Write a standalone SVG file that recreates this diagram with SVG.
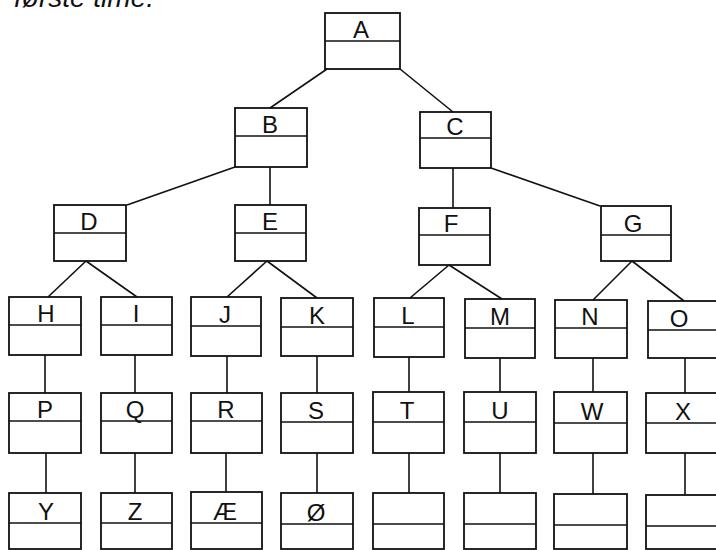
<svg xmlns="http://www.w3.org/2000/svg" width="716" height="550" viewBox="0 0 716 550">
<style>
.b{fill:none;stroke:#111;stroke-width:1.8}
.d{stroke:#111;stroke-width:1.6}
.t{font-family:"Liberation Sans",Arial,sans-serif;font-size:24px;fill:#111;text-anchor:middle}
.c line{stroke:#111;stroke-width:1.6}
.cap{font-family:"Liberation Sans",Arial,sans-serif;font-size:28px;font-style:italic;fill:#111}
</style>
<rect width="716" height="550" fill="#fff"/>
<text class="cap" x="14" y="7">første time.</text>
<g class="c" id="connectors">
<line x1="327" y1="69" x2="270" y2="108"/>
<line x1="400" y1="69" x2="453" y2="112"/>
<line x1="235" y1="167" x2="127" y2="205"/>
<line x1="270" y1="167" x2="270" y2="205"/>
<line x1="453" y1="168" x2="453" y2="208"/>
<line x1="491" y1="168" x2="600" y2="206"/>
<line x1="86" y1="261" x2="48" y2="297"/>
<line x1="86" y1="261" x2="137" y2="297"/>
<line x1="267" y1="261" x2="227" y2="297"/>
<line x1="267" y1="261" x2="317" y2="298"/>
<line x1="449" y1="265" x2="410" y2="298"/>
<line x1="449" y1="265" x2="502" y2="299"/>
<line x1="632" y1="261" x2="593" y2="300"/>
<line x1="632" y1="261" x2="684" y2="301"/>
<line x1="45" y1="355" x2="45" y2="393"/>
<line x1="135" y1="355" x2="135" y2="393"/>
<line x1="227" y1="356" x2="227" y2="393"/>
<line x1="317" y1="356" x2="317" y2="393"/>
<line x1="409" y1="357" x2="409" y2="392"/>
<line x1="500" y1="358" x2="500" y2="392"/>
<line x1="593" y1="358" x2="593" y2="392"/>
<line x1="685" y1="358" x2="685" y2="393"/>
<line x1="46" y1="453" x2="46" y2="493"/>
<line x1="135" y1="453" x2="135" y2="493"/>
<line x1="226" y1="453" x2="226" y2="492"/>
<line x1="317" y1="453" x2="317" y2="493"/>
<line x1="409" y1="453" x2="409" y2="493"/>
<line x1="500" y1="453" x2="500" y2="493"/>
<line x1="593" y1="453" x2="593" y2="494"/>
<line x1="685" y1="453" x2="685" y2="495"/>
</g>
<g id="A"><rect class="b" x="325" y="13" width="75" height="56"/><line class="d" x1="325" y1="41" x2="400" y2="41"/><text class="t" x="361" y="38">A</text></g>
<g id="B"><rect class="b" x="235" y="108" width="72" height="59"/><line class="d" x1="235" y1="136" x2="307" y2="136"/><text class="t" x="270" y="133">B</text></g>
<g id="C"><rect class="b" x="420" y="112" width="71" height="56"/><line class="d" x1="420" y1="138" x2="491" y2="138"/><text class="t" x="455" y="135">C</text></g>
<g id="D"><rect class="b" x="54" y="205" width="72" height="56"/><line class="d" x1="54" y1="233" x2="126" y2="233"/><text class="t" x="89" y="230">D</text></g>
<g id="E"><rect class="b" x="235" y="205" width="71" height="56"/><line class="d" x1="235" y1="233" x2="306" y2="233"/><text class="t" x="270" y="230">E</text></g>
<g id="F"><rect class="b" x="419" y="208" width="71" height="57"/><line class="d" x1="419" y1="235" x2="490" y2="235"/><text class="t" x="451" y="232">F</text></g>
<g id="G"><rect class="b" x="601" y="206" width="70" height="55"/><line class="d" x1="601" y1="235" x2="671" y2="235"/><text class="t" x="633" y="232">G</text></g>
<g id="H"><rect class="b" x="9" y="297" width="72" height="58"/><line class="d" x1="9" y1="325" x2="81" y2="325"/><text class="t" x="46" y="322">H</text></g>
<g id="I"><rect class="b" x="101" y="297" width="71" height="58"/><line class="d" x1="101" y1="325" x2="172" y2="325"/><text class="t" x="136" y="322">I</text></g>
<g id="J"><rect class="b" x="191" y="297" width="70" height="59"/><line class="d" x1="191" y1="326" x2="261" y2="326"/><text class="t" x="225" y="323">J</text></g>
<g id="K"><rect class="b" x="281" y="298" width="72" height="58"/><line class="d" x1="281" y1="327" x2="353" y2="327"/><text class="t" x="317" y="324">K</text></g>
<g id="L"><rect class="b" x="374" y="298" width="70" height="59"/><line class="d" x1="374" y1="327" x2="444" y2="327"/><text class="t" x="408" y="324">L</text></g>
<g id="M"><rect class="b" x="465" y="299" width="70" height="59"/><line class="d" x1="465" y1="328" x2="535" y2="328"/><text class="t" x="500" y="325">M</text></g>
<g id="N"><rect class="b" x="555" y="300" width="72" height="58"/><line class="d" x1="555" y1="328" x2="627" y2="328"/><text class="t" x="590" y="325">N</text></g>
<g id="O"><rect class="b" x="648" y="301" width="80" height="57"/><line class="d" x1="648" y1="330" x2="728" y2="330"/><text class="t" x="679" y="327">O</text></g>
<g id="P"><rect class="b" x="9" y="393" width="72" height="60"/><line class="d" x1="9" y1="421" x2="81" y2="421"/><text class="t" x="45" y="418">P</text></g>
<g id="Q"><rect class="b" x="101" y="393" width="71" height="60"/><line class="d" x1="101" y1="421" x2="172" y2="421"/><text class="t" x="135" y="418">Q</text></g>
<g id="R"><rect class="b" x="191" y="393" width="71" height="60"/><line class="d" x1="191" y1="421" x2="262" y2="421"/><text class="t" x="226" y="418">R</text></g>
<g id="S"><rect class="b" x="281" y="393" width="72" height="60"/><line class="d" x1="281" y1="422" x2="353" y2="422"/><text class="t" x="316" y="419">S</text></g>
<g id="T"><rect class="b" x="373" y="392" width="71" height="61"/><line class="d" x1="373" y1="422" x2="444" y2="422"/><text class="t" x="407" y="419">T</text></g>
<g id="U"><rect class="b" x="464" y="392" width="72" height="61"/><line class="d" x1="464" y1="422" x2="536" y2="422"/><text class="t" x="500" y="419">U</text></g>
<g id="W"><rect class="b" x="554" y="392" width="73" height="61"/><line class="d" x1="554" y1="423" x2="627" y2="423"/><text class="t" x="592" y="420">W</text></g>
<g id="X"><rect class="b" x="646" y="393" width="80" height="60"/><line class="d" x1="646" y1="423" x2="726" y2="423"/><text class="t" x="683" y="420">X</text></g>
<g id="Y"><rect class="b" x="9" y="493" width="72" height="56"/><line class="d" x1="9" y1="523" x2="81" y2="523"/><text class="t" x="46" y="520">Y</text></g>
<g id="Z"><rect class="b" x="101" y="493" width="71" height="56"/><line class="d" x1="101" y1="523" x2="172" y2="523"/><text class="t" x="135" y="520">Z</text></g>
<g id="AE"><rect class="b" x="191" y="492" width="71" height="57"/><line class="d" x1="191" y1="523" x2="262" y2="523"/><text class="t" x="225" y="520">Æ</text></g>
<g id="OE"><rect class="b" x="281" y="493" width="72" height="56"/><line class="d" x1="281" y1="524" x2="353" y2="524"/><text class="t" x="316" y="521">Ø</text></g>
<g id="T2"><rect class="b" x="373" y="493" width="71" height="56"/><line class="d" x1="373" y1="524" x2="444" y2="524"/></g>
<g id="U2"><rect class="b" x="464" y="493" width="72" height="56"/><line class="d" x1="464" y1="524" x2="536" y2="524"/></g>
<g id="W2"><rect class="b" x="554" y="494" width="73" height="55"/><line class="d" x1="554" y1="525" x2="627" y2="525"/></g>
<g id="X2"><rect class="b" x="646" y="495" width="80" height="54"/><line class="d" x1="646" y1="526" x2="726" y2="526"/></g>
</svg>
